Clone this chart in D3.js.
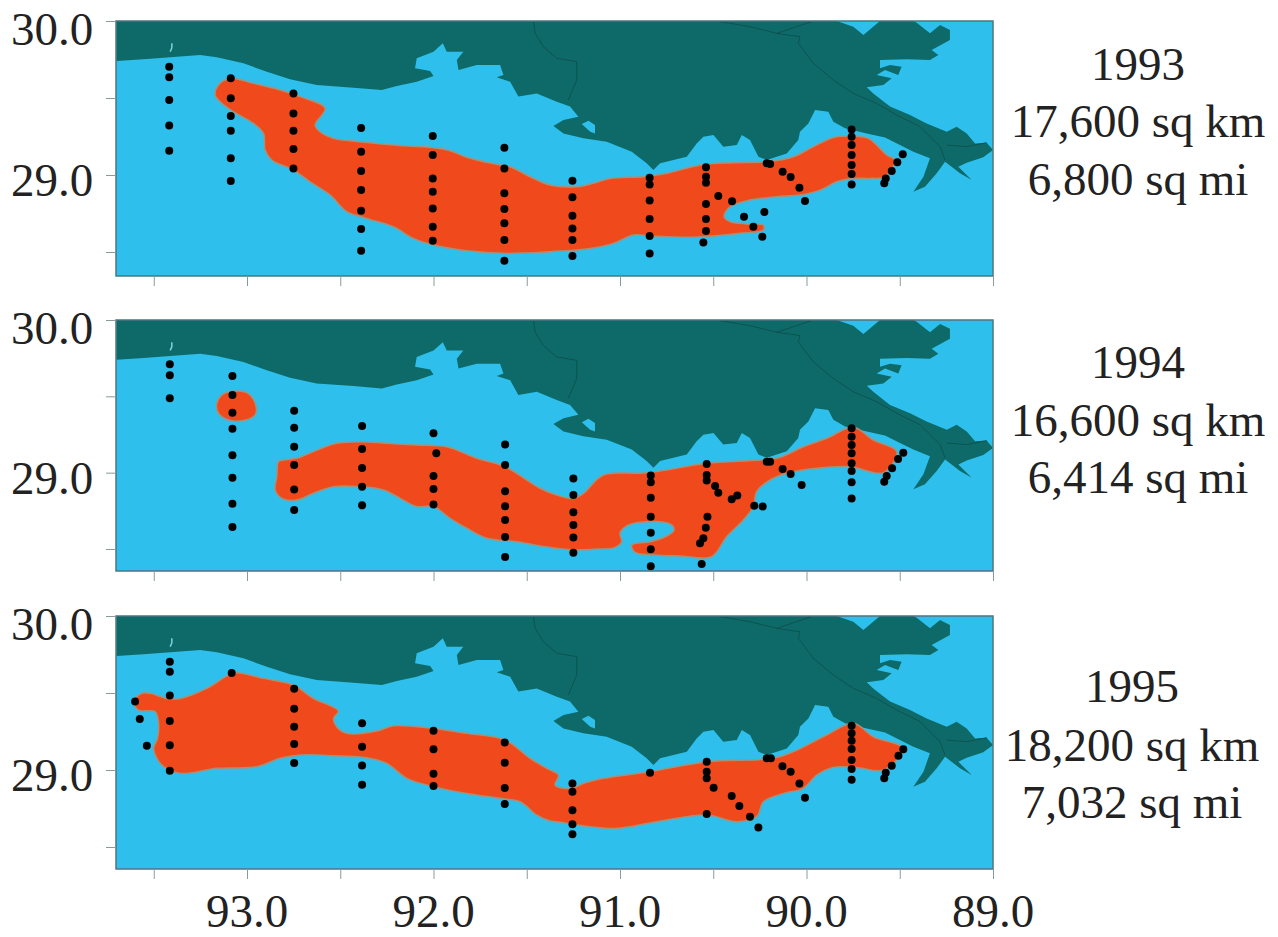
<!DOCTYPE html>
<html>
<head>
<meta charset="utf-8">
<script src="https://cdnjs.cloudflare.com/ajax/libs/d3/7.8.5/d3.min.js"></script>
<style>
html, body { margin: 0; padding: 0; background: #fff; overflow: hidden; }
text { font-family: "Liberation Serif", serif; fill: #222; }
</style>
</head>
<body>
<div class="graph"></div>
<script>
// tick values, degrees
const lonTicks = [93.5, 93, 92.5, 92, 91.5, 91, 90.5, 90, 89.5, 89];
const lonLabels = [93, 92, 91, 90, 89];
const latTicks = [30, 29.5, 29, 28.5];
const latLabels = [30, 29];

const years = ["1993", "1994", "1995"];
const areaKm = ["17,600 sq km", "16,600 sq km", "18,200 sq km"];
const areaMi = ["6,800 sq mi", "6,414 sq mi", "7,032 sq mi"];

// coastline, [lon, lat]
const coast = [[93.70,30],[93.70,29.74],[93.555,29.751],[93.412,29.764],[93.251,29.779],[93.162,29.764],[93.019,29.725],[92.894,29.671],[92.769,29.621],[92.626,29.584],[92.429,29.567],[92.277,29.552],[92.197,29.578],[92.09,29.606],[92,29.643],[92.018,29.675],[92.099,29.693],[92.09,29.758],[92,29.801],[91.95,29.855],[91.929,29.801],[91.84,29.801],[91.875,29.747],[91.866,29.682],[91.768,29.714],[91.643,29.714],[91.625,29.649],[91.661,29.634],[91.589,29.606],[91.545,29.509],[91.446,29.53],[91.339,29.476],[91.268,29.444],[91.223,29.379],[91.303,29.357],[91.357,29.318],[91.303,29.27],[91.196,29.238],[91.071,29.216],[90.937,29.151],[90.857,29.076],[90.821,29.032],[90.785,29.076],[90.642,29.119],[90.589,29.205],[90.553,29.249],[90.499,29.26],[90.446,29.184],[90.374,29.195],[90.347,29.26],[90.303,29.227],[90.258,29.119],[90.213,29.097],[90.106,29.14],[90.044,29.227],[90.035,29.281],[89.99,29.335],[89.954,29.422],[89.883,29.411],[89.856,29.346],[89.793,29.303],[89.677,29.27],[89.579,29.244],[89.499,29.195],[89.427,29.151],[89.338,29.108],[89.373,28.989],[89.427,28.892],[89.365,28.924],[89.302,29.011],[89.257,29.086],[89.177,29.011],[89.114,28.967],[89.186,29.054],[89.141,29.08],[89.052,29.115],[89,29.162],[89.034,29.21],[89.096,29.205],[89.141,29.27],[89.195,29.314],[89.248,29.281],[89.356,29.335],[89.445,29.389],[89.552,29.444],[89.642,29.53],[89.677,29.569],[89.588,29.584],[89.543,29.628],[89.624,29.649],[89.579,29.682],[89.508,29.649],[89.49,29.703],[89.552,29.714],[89.606,29.693],[89.606,29.747],[89.463,29.751],[89.338,29.747],[89.293,29.779],[89.329,29.812],[89.231,29.877],[89.231,29.942],[89.284,29.974],[89.338,29.92],[89.409,29.989],[89.427,30],[89.606,30],[89.695,29.909],[89.749,29.963],[89.838,30]];
const bayPatch = [[91.169,29.353],[91.134,29.325],[91.134,29.27],[91.16,29.281],[91.205,29.331]];
const lakeMark = [[93.403,29.855],[93.403,29.825],[93.412,29.801]];

const rivers = [
	[[91.464,29.996],[91.455,29.92],[91.411,29.833],[91.339,29.758],[91.232,29.736],[91.232,29.617],[91.277,29.487]],
	[[90.464,29.996],[90.303,29.963],[90.16,29.92],[90.035,29.898],[90.044,29.855],[89.963,29.725],[89.856,29.617],[89.749,29.53],[89.624,29.465],[89.516,29.389],[89.391,29.314],[89.284,29.184],[89.257,29.097]],
	[[90.16,29.92],[89.972,29.996]],
	[[89.248,29.194],[89.141,29.184],[89.034,29.21]]
];

// hypoxic zone outlines
const zone1993 = [[[93.09,29.628],[93.153,29.584],[93.171,29.519],[93.144,29.476],[93.073,29.411],[92.965,29.335],[92.912,29.27],[92.903,29.162],[92.867,29.097],[92.751,29.032],[92.662,28.956],[92.554,28.87],[92.465,28.762],[92.358,28.718],[92.215,28.664],[92.108,28.588],[92,28.545],[91.822,28.508],[91.607,28.491],[91.375,28.502],[91.16,28.523],[91.035,28.556],[90.928,28.61],[90.839,28.604],[90.642,28.595],[90.499,28.604],[90.356,28.621],[90.231,28.643],[90.231,28.675],[90.321,28.682],[90.41,28.697],[90.442,28.729],[90.41,28.794],[90.303,28.837],[90.16,28.859],[90.035,28.87],[89.927,28.902],[89.838,28.956],[89.758,28.978],[89.659,28.978],[89.579,28.989],[89.525,29.097],[89.57,29.13],[89.624,29.195],[89.668,29.238],[89.767,29.253],[89.856,29.244],[89.963,29.184],[90.07,29.119],[90.213,29.086],[90.392,29.08],[90.571,29.065],[90.749,29.011],[90.875,28.989],[91.053,28.978],[91.143,28.946],[91.232,28.924],[91.375,28.935],[91.482,28.989],[91.589,29.054],[91.643,29.065],[91.822,29.115],[91.911,29.158],[92.018,29.179],[92.215,29.195],[92.393,29.216],[92.536,29.238],[92.608,29.281],[92.635,29.325],[92.581,29.433],[92.715,29.509],[92.822,29.552],[92.965,29.595]]];

const zone1994 = [
	[[93.09,29.531],[93.001,29.524],[92.956,29.454],[92.956,29.378],[93.019,29.341],[93.099,29.345],[93.153,29.389],[93.162,29.454],[93.135,29.509]],
	[[92.831,29.072],[92.84,28.974],[92.849,28.887],[92.813,28.832],[92.733,28.821],[92.644,28.865],[92.536,28.908],[92.393,28.908],[92.268,28.887],[92.179,28.832],[92.09,28.778],[92,28.778],[91.911,28.701],[91.822,28.636],[91.714,28.57],[91.554,28.548],[91.429,28.52],[91.25,28.494],[91.143,28.498],[91.026,28.511],[90.991,28.548],[91,28.603],[90.955,28.657],[90.857,28.679],[90.732,28.664],[90.71,28.625],[90.749,28.585],[90.839,28.548],[90.937,28.526],[90.919,28.478],[90.821,28.461],[90.678,28.454],[90.508,28.45],[90.428,28.581],[90.338,28.69],[90.285,28.778],[90.267,28.876],[90.195,28.952],[90.106,28.996],[89.945,29.029],[89.767,29.039],[89.588,29],[89.516,29.138],[89.642,29.214],[89.749,29.297],[89.892,29.225],[90.017,29.17],[90.142,29.101],[90.249,29.083],[90.535,29.061],[90.803,29.007],[90.892,28.996],[91.089,28.985],[91.196,28.865],[91.25,28.832],[91.339,28.854],[91.429,28.898],[91.616,29.039],[91.768,29.094],[91.929,29.17],[92.09,29.181],[92.251,29.192],[92.393,29.203],[92.519,29.192],[92.644,29.138],[92.733,29.094],[92.804,29.083]]
];

const zone1995 = [[[93.564,29.498],[93.609,29.444],[93.582,29.389],[93.493,29.379],[93.475,29.314],[93.48,29.205],[93.501,29.14],[93.457,29.032],[93.358,28.978],[93.162,29.011],[92.948,29.021],[92.822,29.076],[92.715,29.097],[92.536,29.093],[92.358,29.08],[92.251,29.043],[92.143,28.946],[92,28.892],[91.822,28.848],[91.643,28.816],[91.536,28.794],[91.446,28.707],[91.375,28.669],[91.339,28.664],[91.16,28.632],[91.018,28.621],[90.803,28.664],[90.535,28.707],[90.374,28.664],[90.267,28.697],[90.231,28.794],[90.124,28.848],[90.017,28.881],[89.945,28.967],[89.856,29.017],[89.731,29.017],[89.588,29],[89.481,29.14],[89.642,29.216],[89.749,29.303],[89.892,29.227],[90.07,29.119],[90.178,29.076],[90.535,29.054],[90.839,28.989],[91.089,28.946],[91.196,28.913],[91.259,28.881],[91.348,28.902],[91.33,28.967],[91.393,29.011],[91.482,29.076],[91.616,29.195],[91.822,29.238],[92,29.27],[92.215,29.288],[92.304,29.253],[92.465,29.238],[92.519,29.281],[92.536,29.335],[92.51,29.383],[92.644,29.465],[92.751,29.552],[92.912,29.595],[93.055,29.632],[93.099,29.617],[93.216,29.53],[93.358,29.465],[93.43,29.465],[93.519,29.498]]];

// sampling stations
const stations1993 = [[93.417,29.703],[93.417,29.634],[93.417,29.487],[93.417,29.322],[93.417,29.158],
	[93.087,29.628],[93.087,29.498],[93.087,29.383],[93.087,29.288],[93.087,29.108],[93.087,28.961],
	[92.751,29.53],[92.751,29.4],[92.751,29.288],[92.751,29.169],[92.751,29.043],
	[92.388,29.305],[92.388,29.151],[92.388,29.026],[92.388,28.902],[92.388,28.768],[92.388,28.649],[92.388,28.508],
	[92.004,29.253],[92.004,29.13],[92.004,28.978],[92.004,28.892],[92.004,28.783],[92.004,28.664],[92.004,28.573],
	[91.62,29.177],[91.62,29.043],[91.62,28.881],[91.62,28.779],[91.62,28.686],[91.62,28.578],[91.62,28.443],
	[91.255,28.963],[91.255,28.855],[91.255,28.736],[91.255,28.653],[91.255,28.578],[91.255,28.474],
	[90.841,28.982],[90.841,28.939],[90.841,28.835],[90.841,28.714],[90.841,28.604],[90.841,28.491],
	[90.539,29.05],[90.539,28.989],[90.539,28.95],[90.539,28.811],[90.539,28.714],[90.539,28.636],[90.553,28.562],
	[90.473,28.863],[90.399,28.829],[90.335,28.729],[90.285,28.664],[90.237,28.599],[90.226,28.759],
	[90.213,29.076],[90.195,29.072],[90.128,29.021],[90.085,28.987],[90.038,28.917],[90.008,28.831],
	[89.758,29.296],[89.758,29.249],[89.758,29.195],[89.758,29.13],[89.758,29.065],[89.758,29.006],[89.758,28.939],
	[89.583,28.946],[89.575,28.978],[89.543,29.026],[89.513,29.082],[89.484,29.134]];

const stations1994 = [[93.414,29.71],[93.414,29.638],[93.414,29.487],
	[93.078,29.633],[93.078,29.509],[93.078,29.393],[93.078,29.288],[93.078,29.114],[93.078,28.967],[93.078,28.797],[93.078,28.644],
	[92.747,29.406],[92.747,29.295],[92.747,29.17],[92.747,29.05],[92.747,28.889],[92.747,28.756],
	[92.383,29.306],[92.383,29.155],[92.383,29.031],[92.383,28.908],[92.383,28.786],
	[92,29.258],[91.985,29.127],[92,28.978],[92,28.893],[92,28.791],
	[91.616,29.184],[91.616,29.05],[91.616,28.878],[91.616,28.78],[91.616,28.69],[91.616,28.579],[91.616,28.448],
	[91.25,28.961],[91.25,28.854],[91.25,28.74],[91.25,28.657],[91.25,28.575],[91.25,28.476],
	[90.835,28.981],[90.835,28.937],[90.835,28.836],[90.835,28.712],[90.835,28.607],[90.835,28.498],[90.835,28.387],
	[90.535,29.057],[90.535,28.985],[90.535,28.948],[90.49,28.913],[90.473,28.869],[90.401,28.826],[90.371,28.85],[90.28,28.784],[90.235,28.778],
	[90.531,28.712],[90.54,28.64],[90.553,28.57],[90.571,28.537],[90.562,28.402],
	[90.213,29.072],[90.195,29.072],[90.128,29.024],[90.085,28.991],[90.026,28.919],
	[89.758,29.291],[89.758,29.236],[89.758,29.181],[89.758,29.127],[89.758,29.061],[89.758,29.011],[89.758,28.937],[89.758,28.83],
	[89.583,28.941],[89.57,28.978],[89.541,29.029],[89.509,29.09],[89.481,29.131]];

const stations1995 = [[93.414,29.703],[93.414,29.638],[93.414,29.483],[93.414,29.318],[93.414,29.16],[93.414,28.995],
	[93.6,29.444],[93.575,29.331],[93.537,29.158],[93.082,29.63],
	[92.747,29.528],[92.747,29.398],[92.747,29.281],[92.747,29.169],[92.747,29.045],
	[92.383,29.303],[92.383,29.151],[92.383,29.03],[92.383,28.905],
	[92,29.255],[92,29.134],[92,28.976],[92,28.896],
	[91.618,29.179],[91.618,29.047],[91.618,28.883],[91.618,28.779],
	[91.255,28.913],[91.255,28.859],[91.255,28.738],[91.255,28.647],[91.255,28.582],
	[90.839,28.982],
	[90.535,29.054],[90.535,28.989],[90.535,28.946],[90.535,28.714],[90.498,28.885],
	[90.401,28.831],[90.36,28.766],[90.303,28.697],[90.258,28.627],
	[90.213,29.076],[90.191,29.076],[90.129,29.024],[90.085,28.989],[90.038,28.913],[90.008,28.82],
	[89.758,29.288],[89.758,29.238],[89.758,29.19],[89.758,29.136],[89.758,29.065],[89.758,29.006],[89.758,28.937],
	[89.583,28.946],[89.575,28.982],[89.543,29.028],[89.507,29.093],[89.481,29.134]];

const zones = [zone1993, zone1994, zone1995];
const stations = [stations1993, stations1994, stations1995];

// layout
const left = 116, right = 993;
const panelTop = [21, 320, 616];
const panelBottom = [276, 571, 869];
const lat285 = [252, 549, 847];
const textY = [[80, 137, 195], [378, 436, 493], [702, 761, 818]];
const textX = [1138, 1138, 1132];

const svg = d3.select(".graph").append("svg")
	.attr("width", 1278)
	.attr("height", 937)
	.style("display", "block");

const defs = svg.append("defs");
defs.append("filter").attr("id", "soft")
	.append("feGaussianBlur").attr("stdDeviation", 0.55);

const x = d3.scaleLinear().domain([89, 93]).range([right, 247]);

years.forEach(function(year, i){
	const y = d3.scaleLinear().domain([30, 28.5]).range([panelTop[i], lat285[i]]);
	const h = panelBottom[i] - panelTop[i];

	const line = d3.line().x(d => x(d[0])).y(d => y(d[1]));
	const smooth = d3.line().x(d => x(d[0])).y(d => y(d[1])).curve(d3.curveCatmullRomClosed.alpha(0.5));

	defs.append("clipPath").attr("id", "clip" + i)
		.append("rect").attr("x", left).attr("y", panelTop[i]).attr("width", right - left).attr("height", h);

	const g = svg.append("g").attr("filter", "url(#soft)");
	const map = g.append("g").attr("clip-path", "url(#clip" + i + ")");

	map.append("rect")
		.attr("x", left).attr("y", panelTop[i])
		.attr("width", right - left).attr("height", h)
		.attr("fill", "#2fbfec");

	map.append("path").attr("d", line(coast) + "Z").attr("fill", "#0c6b67");
	map.append("path").attr("d", line(bayPatch) + "Z").attr("fill", "#2fbfec");
	map.append("path").attr("d", line(lakeMark)).attr("fill", "none").attr("stroke", "#7fd0e0").attr("stroke-width", 1.5);

	map.selectAll(".river").data(rivers).enter().append("path")
		.attr("class", "river")
		.attr("d", line)
		.attr("fill", "none")
		.attr("stroke", "#0a4b4a")
		.attr("stroke-width", 0.8);

	map.selectAll(".zone").data(zones[i]).enter().append("path")
		.attr("class", "zone")
		.attr("d", smooth)
		.attr("fill", "#f04a1c")
		.attr("stroke", "#a89078")
		.attr("stroke-width", 1.5);

	map.selectAll(".station").data(stations[i]).enter().append("circle")
		.attr("class", "station")
		.attr("cx", d => x(d[0]))
		.attr("cy", d => y(d[1]))
		.attr("r", 4)
		.attr("fill", "#050505");

	// frame
	g.append("rect")
		.attr("x", left).attr("y", panelTop[i])
		.attr("width", right - left).attr("height", h)
		.attr("fill", "none")
		.attr("stroke", "#4f7480")
		.attr("stroke-width", 1.5);

	const yAxis = d3.axisLeft(y).tickValues(latTicks).tickSize(10).tickFormat("");
	const yg = g.append("g").attr("transform", "translate(" + left + ",0)").call(yAxis);
	const xAxis = d3.axisBottom(x).tickValues(lonTicks).tickSize(10).tickFormat("");
	const xg = g.append("g").attr("transform", "translate(0," + panelBottom[i] + ")").call(xAxis);
	[yg, xg].forEach(function(a){
		a.select(".domain").remove();
		a.selectAll("line").attr("stroke", "#8a9a9c").attr("stroke-width", 1);
	});

	// lat labels
	svg.selectAll(".lat" + i).data(latLabels).enter().append("text")
		.attr("class", "lat" + i)
		.attr("x", 11)
		.attr("y", d => y(d) + (d == 30 ? 24 : 21))
		.attr("font-size", 47)
		.text(d => d3.format(".1f")(d));

	// right hand text
	[year, areaKm[i], areaMi[i]].forEach(function(t, j){
		svg.append("text")
			.attr("x", textX[i])
			.attr("y", textY[i][j])
			.attr("text-anchor", "middle")
			.attr("font-size", 47)
			.text(t);
	});
});

svg.selectAll(".lon").data(lonLabels).enter().append("text")
	.attr("class", "lon")
	.attr("x", d => x(d))
	.attr("y", 926.5)
	.attr("text-anchor", "middle")
	.attr("font-size", 47)
	.text(d => d3.format(".1f")(d));
</script>
</body>
</html>
